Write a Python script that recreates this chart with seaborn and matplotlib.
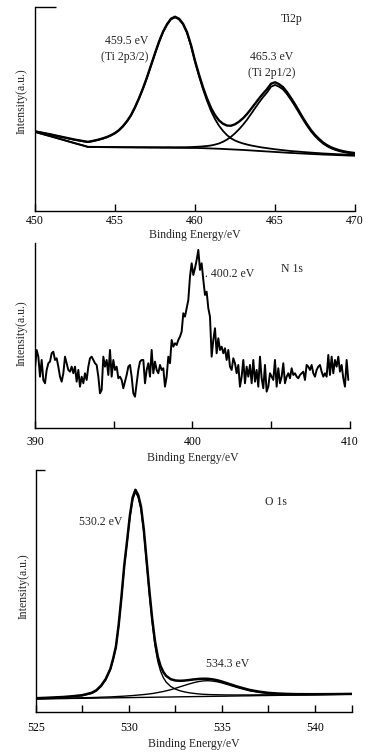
import numpy as np
import matplotlib
matplotlib.use("Agg")
import matplotlib.pyplot as plt
import seaborn as sns

sns.set_theme(style="ticks")
plt.rcParams['font.family'] = ['Liberation Serif', 'DejaVu Serif']
plt.rcParams['axes.unicode_minus'] = False

# ---- Ti 2p : background + fitted peak heights above background ----
ti_be = [450, 450.5, 451, 451.5, 452, 452.5, 453, 453.3,
         453.5, 453.75, 454, 454.25, 454.5, 454.75, 455, 455.25, 455.5, 455.75,
         456, 456.25, 456.5, 456.75, 457, 457.25, 457.5, 457.75,
         458, 458.25, 458.5, 458.75, 459, 459.25, 459.5, 459.75,
         460, 460.25, 460.5, 460.75, 461, 461.25, 461.5, 461.75,
         462, 462.25, 462.5, 462.75, 463, 463.25, 463.5, 463.75,
         464, 464.25, 464.5, 464.75, 465, 465.25, 465.5, 465.75,
         466, 466.25, 466.5, 466.75, 467, 467.25, 467.5, 467.75,
         468, 468.25, 468.5, 468.75, 469, 469.25, 469.5, 469.75, 470]
ti_bg = [79, 76.7, 74.5, 72.2, 69.9, 67.6, 65.4, 64.0,
         63.95, 63.9, 63.85, 63.8, 63.75, 63.7, 63.65, 63.6, 63.55, 63.5,
         63.5, 63.45, 63.4, 63.4, 63.35, 63.3, 63.3, 63.25,
         63.2, 63.2, 63.15, 63.1, 63.1, 63.05, 63.0, 63.0,
         63.0, 62.9, 62.8, 62.65, 62.5, 62.35, 62.2, 62.0,
         61.8, 61.6, 61.4, 61.2, 61.0, 60.75, 60.5, 60.25,
         60.0, 59.75, 59.5, 59.25, 59.0, 58.75, 58.5, 58.25,
         58.0, 57.8, 57.6, 57.4, 57.2, 57.0, 56.8, 56.6,
         56.4, 56.25, 56.1, 55.95, 55.8, 55.65, 55.5, 55.35, 55.2]
ti_2p32_net = [0.5, 1.2, 1.8, 2.3, 2.9, 3.5, 4.3, 4.9,
               5.5, 6.4, 7.4, 8.6, 10, 11.8, 14, 17, 21, 26,
               32, 40, 49, 59, 70, 82, 94, 105.5,
               115.5, 123, 128.5, 130.5, 128.5, 123.5, 115, 102,
               86, 72, 59, 47.5, 37.5, 29.5, 23, 18,
               14, 11, 9, 7.6, 6.5, 5.7, 5.0, 4.5,
               4.0, 3.6, 3.3, 3.0, 2.7, 2.5, 2.3, 2.1,
               1.9, 1.8, 1.7, 1.55, 1.45, 1.35, 1.25, 1.2,
               1.1, 1.05, 1.0, 0.95, 0.9, 0.85, 0.8, 0.75, 0.7]
ti_2p12_net = [0.15, 0.15, 0.15, 0.2, 0.2, 0.2, 0.2, 0.2,
               0.2, 0.2, 0.25, 0.25, 0.25, 0.3, 0.3, 0.3, 0.3, 0.35,
               0.35, 0.35, 0.4, 0.4, 0.4, 0.45, 0.45, 0.5,
               0.5, 0.55, 0.6, 0.6, 0.65, 0.7, 0.8, 0.9,
               1.1, 1.4, 1.8, 2.3, 3.0, 4.0, 5.3, 7.2,
               9.6, 12.6, 16.3, 20.5, 25.2, 30.5, 36.5, 42.5,
               48.5, 54, 59, 65, 67, 65.5, 63, 58.5,
               53, 47, 40.5, 34, 28, 22.5, 18, 14.2,
               11, 8.5, 6.6, 5.2, 4.1, 3.3, 2.7, 2.3, 2.0]

# ---- N 1s (raw counts, uniform energy step) ----
n1s_counts = [59.7, 78, 71.3, 51.3, 68, 48, 44.7, 58, 64.7, 66.3, 74.7, 76.3, 68, 69.7, 61.3,
              51.3, 46.3, 54.7, 71.3, 64.7, 58, 56.3, 61.3, 54.7, 61.3, 46.3, 58, 41.3, 51.3,
              44.7, 54.7, 48, 61.3, 69.7, 71.3, 68, 64.7, 63, 51.3, 34.7, 38, 71.3, 61.3, 68,
              53, 78, 51.3, 68, 58, 61.3, 49.7, 51.3, 48, 39.7, 46.3, 53, 61.3, 63, 51.3, 34.7,
              31.3, 44.7, 58, 66.3, 68, 68, 44.7, 58, 64.7, 51.3, 78, 54.7, 66.3, 58, 54.7, 63,
              58, 59.7, 41.3, 51.3, 71.3, 64.7, 88, 81.3, 84.7, 83, 88, 91.3, 96.3, 114.7,
              111.3, 119.7, 128, 151.3, 164.7, 153, 159.7, 168, 178, 158, 164.7, 148, 133,
              136.3, 119.7, 111.3, 71.3, 88, 99.7, 74.7, 89.7, 78, 81.3, 74.7, 79.7, 68, 78,
              61.3, 58, 69.7, 64.7, 54.7, 63, 41.3, 51.3, 68, 44.7, 61.3, 51.3, 63, 44.7, 68,
              46.3, 58, 41.3, 71.3, 49.7, 39.7, 63, 36.3, 41.3, 54.7, 51.3, 48, 68, 41.3, 59.7,
              44.7, 51.3, 64.7, 44.7, 51.3, 54.7, 49.7, 59.7, 53, 54.7, 51.3, 49.7, 53, 54.7,
              56.3, 48, 63, 61.3, 58, 63, 54.7, 51.3, 58, 61.3, 63, 56.3, 51.3, 54.7, 51.3, 73,
              53, 71.3, 54.7, 68, 61.3, 71.3, 56.3, 63, 49.7, 41.3, 68, 48]
n1s_be = np.linspace(390.0, 409.9, len(n1s_counts))

# ---- O 1s : background + fitted peak heights above background ----
o_be = [525, 525.5, 526, 526.5, 527, 527.5, 528, 528.25, 528.5, 528.75,
        529, 529.15, 529.3, 529.45, 529.6, 529.75, 529.9, 530.05, 530.2, 530.35,
        530.5, 530.65, 530.8, 530.95, 531.1, 531.25, 531.4, 531.55, 531.7, 531.85,
        532, 532.25, 532.5, 532.75, 533, 533.25, 533.5, 533.75, 534, 534.25,
        534.5, 534.75, 535, 535.25, 535.5, 535.75, 536, 536.5, 537, 537.5,
        538, 538.5, 539, 540, 541, 542]
o_bg = [13.0, 13.1, 13.3, 13.4, 13.6, 13.7, 13.8, 13.9, 14.0, 14.05,
        14.1, 14.15, 14.2, 14.25, 14.3, 14.3, 14.35, 14.4, 14.45, 14.5,
        14.55, 14.6, 14.6, 14.65, 14.7, 14.75, 14.8, 14.85, 14.9, 14.9,
        14.95, 15.0, 15.1, 15.2, 15.25, 15.3, 15.4, 15.45, 15.5, 15.6,
        15.65, 15.75, 15.8, 15.85, 15.95, 16.0, 16.1, 16.2, 16.4, 16.5,
        16.65, 16.8, 16.9, 17.2, 17.5, 17.8]
o_lattice_net = [0.6, 0.8, 1.0, 1.3, 1.8, 2.6, 4.8, 7.2, 11.5, 18,
                 28, 38, 50, 72, 100, 131, 155, 180, 198, 205.5,
                 200, 188, 165, 134, 103, 75, 52, 36, 26, 19.5,
                 15, 10.5, 7.8, 6.0, 4.8, 3.9, 3.2, 2.6, 2.2, 1.9,
                 1.7, 1.5, 1.35, 1.2, 1.1, 1.0, 0.95, 0.85, 0.75, 0.65,
                 0.55, 0.5, 0.45, 0.35, 0.25, 0.2]
o_oh_net = [0.2, 0.25, 0.3, 0.35, 0.45, 0.55, 0.65, 0.7, 0.8, 0.9,
            1.0, 1.1, 1.2, 1.3, 1.4, 1.55, 1.7, 1.85, 2.0, 2.2,
            2.4, 2.6, 2.85, 3.1, 3.4, 3.7, 4.1, 4.6, 5.1, 5.6,
            6.2, 7.3, 8.6, 10.0, 11.4, 12.8, 14.0, 15.0, 15.6, 15.7,
            15.3, 14.5, 13.3, 11.9, 10.4, 8.9, 7.5, 5.0, 3.2, 2.0,
            1.3, 0.8, 0.5, 0.25, 0.15, 0.1]

fig = plt.figure(figsize=(3.7, 7.54), dpi=100)
ax1 = fig.add_axes([0.0946, 0.7202, 0.865, 0.2706])
ax2 = fig.add_axes([0.0946, 0.4324, 0.851, 0.2454])
ax3 = fig.add_axes([0.0973, 0.0557, 0.854, 0.3210])

fs = 8.5


def style(ax, pad, labelpad):
    for s in ['top', 'right']:
        ax.spines[s].set_visible(False)
    for s in ['left', 'bottom']:
        ax.spines[s].set_linewidth(1.0)
        ax.spines[s].set_color('black')
    ax.set_facecolor('white')
    ax.tick_params(axis='x', direction='in', length=5, width=1, colors='black',
                   labelsize=fs, pad=pad)
    ax.set_xlabel('Binding Energy/eV', fontsize=fs, labelpad=labelpad)
    ax.set_ylabel('Intensity(a.u.)', fontsize=fs)


#%% Ti 2p
bg = np.array(ti_bg)
p32 = bg + np.array(ti_2p32_net)
p12 = bg + np.array(ti_2p12_net)
env = bg + np.array(ti_2p32_net) + np.array(ti_2p12_net)
sns.lineplot(x=ti_be, y=bg, ax=ax1, color='black', linewidth=1.3)
sns.lineplot(x=ti_be, y=p32, ax=ax1, color='black', linewidth=1.3)
sns.lineplot(x=ti_be, y=p12, ax=ax1, color='black', linewidth=1.3)
sns.lineplot(x=ti_be, y=env, ax=ax1, color='black', linewidth=1.7)
ax1.set_xlim(450, 470)
ax1.set_ylim(0, 204)
ax1.set_xticks([450, 455, 460, 465, 470])
ax1.set_yticks([204])
ax1.set_yticklabels([''])
ax1.tick_params(axis='y', direction='in', length=15, width=1, colors='black')
style(ax1, 3, 1)
ax1.yaxis.set_label_coords(-0.022, 0.54)
ax1.text(455.75, 170, '459.5 eV', ha='center', va='center', fontsize=fs)
ax1.text(455.6, 154, '(Ti 2p3/2)', ha='center', va='center', fontsize=fs)
ax1.text(464.8, 154, '465.3 eV', ha='center', va='center', fontsize=fs)
ax1.text(464.8, 138, '(Ti 2p1/2)', ha='center', va='center', fontsize=fs)
ax1.text(466.06, 192, 'Ti2p', ha='center', va='center', fontsize=fs)

#%% N 1s
sns.lineplot(x=n1s_be, y=n1s_counts, ax=ax2, color='black', linewidth=1.4)
ax2.set_xlim(390, 410)
ax2.set_ylim(0, 185)
ax2.set_xticks([390, 395, 400, 405, 410])
ax2.set_xticklabels(['390', '', '400', '', '410'])
ax2.set_yticks([])
style(ax2, 6, 3)
ax2.yaxis.set_label_coords(-0.022, 0.51)
ax2.text(402.38, 154, '. 400.2 eV', ha='center', va='center', fontsize=fs)
ax2.text(406.3, 159, 'N 1s', ha='center', va='center', fontsize=fs)

#%% O 1s
obg = np.array(o_bg)
lat = obg + np.array(o_lattice_net)
oh = obg + np.array(o_oh_net)
oenv = obg + np.array(o_lattice_net) + np.array(o_oh_net)
sns.lineplot(x=o_be, y=obg, ax=ax3, color='black', linewidth=1.0)
sns.lineplot(x=o_be, y=lat, ax=ax3, color='black', linewidth=1.0)
sns.lineplot(x=o_be, y=oh, ax=ax3, color='black', linewidth=1.0)
sns.lineplot(x=o_be, y=oenv, ax=ax3, color='black', linewidth=1.8)
ax3.set_xlim(525, 542)
ax3.set_ylim(0, 242)
ax3.set_xticks([525, 527.5, 530, 532.5, 535, 537.5, 540, 542])
ax3.set_xticklabels(['525', '', '530', '', '535', '', '540', ''])
ax3.set_yticks([242])
ax3.set_yticklabels([''])
ax3.tick_params(axis='y', direction='in', length=6.5, width=1, colors='black')
style(ax3, 7, 3)
ax3.yaxis.set_label_coords(-0.019, 0.52)
ax3.text(528.49, 190.3, '530.2 eV', ha='center', va='center', fontsize=fs)
ax3.text(535.3, 47.7, '534.3 eV', ha='center', va='center', fontsize=fs)
ax3.text(537.9, 209.7, 'O 1s', ha='center', va='center', fontsize=fs)

fig.savefig('out.png', dpi=100, facecolor='white')
